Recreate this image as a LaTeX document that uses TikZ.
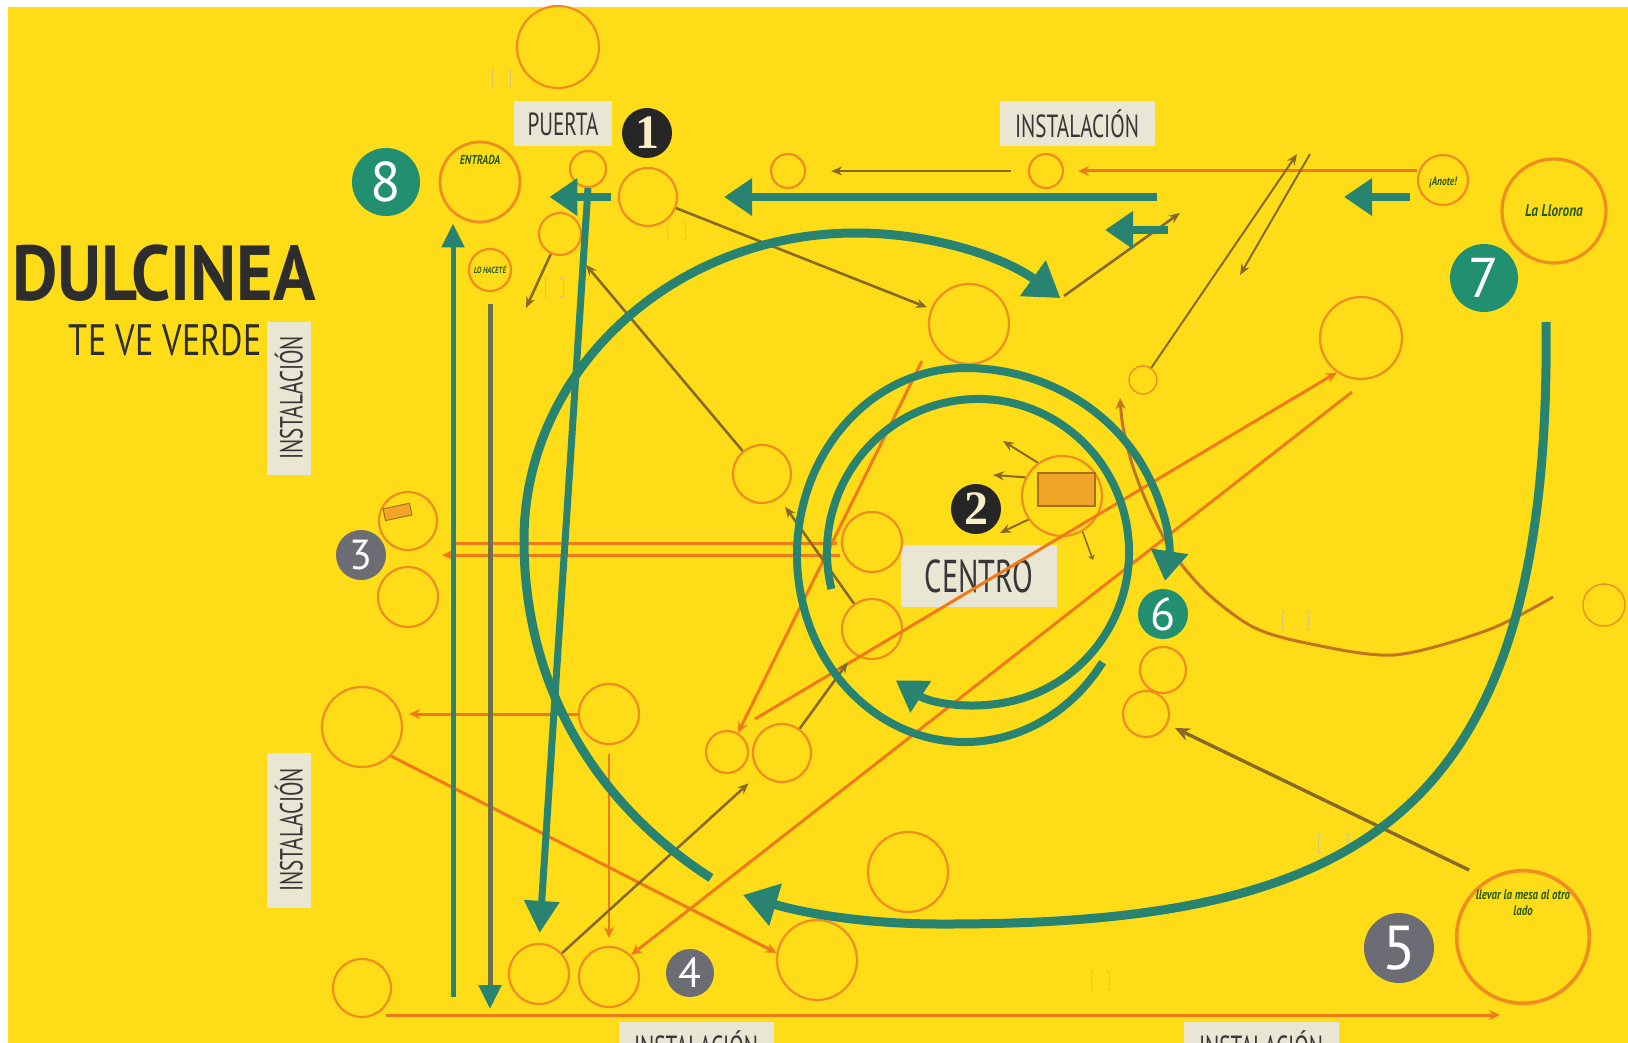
\documentclass[tikz,border=0pt]{standalone}
\usepackage{fontspec}
\setmainfont{PT Sans}
\newfontfamily\condsans{PT Sans}[FakeStretch=0.78]
\newfontfamily\widesans{PT Sans}[FakeStretch=0.9]
\newfontfamily\narrowsans{PT Sans}[FakeStretch=0.66]
\newfontfamily\numserif{Liberation Serif}
\usetikzlibrary{arrows.meta,positioning}

\definecolor{canvasyellow}{RGB}{254,221,24}
\definecolor{tealline}{RGB}{40,132,112}
\definecolor{discgreen}{RGB}{34,144,112}
\definecolor{discgray}{RGB}{108,108,116}
\definecolor{darkdisc}{RGB}{38,38,38}
\definecolor{numcream}{RGB}{250,240,200}
\definecolor{lineorange}{RGB}{240,122,26}
\definecolor{ringorange}{RGB}{240,140,32}
\definecolor{brownline}{RGB}{135,105,40}
\definecolor{rustline}{RGB}{196,116,32}
\definecolor{tagfill}{RGB}{234,230,212}
\definecolor{inkgray}{RGB}{55,55,55}
\definecolor{titleink}{RGB}{45,45,45}
\definecolor{titlegreen}{RGB}{40,90,30}
\definecolor{boxorange}{RGB}{240,165,40}
\definecolor{boxedge}{RGB}{170,110,30}
\definecolor{dropolive}{RGB}{110,112,70}
\definecolor{brackink}{RGB}{215,196,110}

% faint [ ] marks
\newcommand\brackpair[3]{%
  \draw[brackink, line width=0.8pt] (#1-#3,#2-9) -- ++(-3,0) -- ++(0,18) -- ++(3,0);
  \draw[brackink, line width=0.8pt] (#1+#3,#2-9) -- ++(3,0) -- ++(0,18) -- ++(-3,0);}

\begin{document}
\begin{tikzpicture}[x=1pt,y=-1pt,
  spot/.style={circle, draw=ringorange, fill=canvasyellow, line width=2.2pt, minimum size=#1, inner sep=0pt},
  badge/.style={circle, fill=#1, inner sep=0pt, text=white},
  tag/.style={fill=tagfill, text=inkgray, inner sep=0pt, font=\narrowsans\fontsize{32}{32}\selectfont},
  inside/.style={text=titlegreen, font=\condsans\bfseries\itshape, align=center},
  sweep/.style={draw=tealline, line width=9pt, -{Triangle[length=34pt,width=42pt]}},
  ring/.style={draw=tealline, line width=8pt, -{Triangle[length=30pt,width=36pt]}},
  bar/.style={draw=tealline, line width=8pt, -{Triangle[length=28pt,width=36pt]}},
  thinbrown/.style={draw=brownline, line width=2.6pt, -{Stealth[length=11pt,width=9pt]}},
  orangeline/.style={draw=lineorange, line width=3pt},
  orangearrow/.style={orangeline, -{Stealth[length=11pt,width=10pt]}},
]
\useasboundingbox (0,0) rectangle (1628,1043);
\fill[white] (0,0) rectangle (1628,1043);
\fill[canvasyellow] (8,7) rectangle (1628,1043);

% title
\node[anchor=west, inner sep=0pt, text=titleink, font=\widesans\bfseries\fontsize{78}{78}\selectfont] (brand) at (12,273) {DULCINEA};
\node[anchor=east, inner sep=0pt, text=titleink, font=\condsans\fontsize{44}{44}\selectfont] (motto) at (262,340) {TE VE VERDE};

% tags
\node[tag, minimum width=98pt, minimum height=45pt] (puerta) at (563,124) {PUERTA};
\node[tag, minimum width=155pt, minimum height=45pt] (instTop) at (1077,124) {INSTALACIÓN};
\node[tag, rotate=90, minimum width=153pt, minimum height=44pt] (instUp) at (289,398) {INSTALACIÓN};
\node[tag, rotate=90, minimum width=155pt, minimum height=44pt] (instDown) at (289,830) {INSTALACIÓN};
\node[tag, minimum width=155pt, minimum height=46pt] (instBotA) at (696,1045) {INSTALACIÓN};
\node[tag, minimum width=155pt, minimum height=46pt] (instBotB) at (1261,1045) {INSTALACIÓN};
\node[tag, minimum width=156pt, minimum height=62pt, font=\narrowsans\fontsize{46}{46}\selectfont] (centro) at (979,576) {CENTRO};

% circles
\node[spot=82] (topc) at (558,47) {};
\node[spot=80, line width=2.8pt, inside, font=\condsans\bfseries\itshape\fontsize{13}{14}\selectfont] (entrada) at (480,182) {ENTRADA\\[30pt]\mbox{}};
\node[spot=36] (c3) at (588,169) {};
\node[spot=58] (salir) at (648,197) {};
\node[spot=42] (c5) at (560,234) {};
\node[spot=42, inside, font=\condsans\bfseries\itshape\fontsize{9}{10}\selectfont] (hacete) at (490,270) {LO HACETÉ};
\node[spot=34] (c7) at (788,171) {};
\node[spot=34] (c8) at (1046,171) {};
\node[spot=50, inside, font=\condsans\bfseries\itshape\fontsize{12}{12}\selectfont] (anote) at (1443,180) {\\[2pt]¡Anote!};
\node[spot=104, line width=3.2pt, inside, font=\condsans\bfseries\itshape\fontsize{17}{18}\selectfont] (llorona) at (1554,211) {La Llorona};
\node[spot=80] (c11) at (969,324) {};
\node[spot=82] (c12) at (1361,338) {};
\node[spot=28, line width=1.4pt] (c13) at (1143,380) {};
\node[spot=58] (lista) at (762,474) {};
\node[spot=80] (cimg) at (1062,496) {};
\node[spot=60] (c16) at (872,542) {};
\node[spot=60] (c17) at (872,629) {};
\node[spot=58] (c18) at (408,521) {};
\node[spot=60] (c19) at (408,597) {};
\node[spot=80] (sitio) at (362,727) {};
\node[spot=60] (c21) at (609,714) {};
\node[spot=42] (c22) at (727,752) {};
\node[spot=58] (c23) at (782,753) {};
\node[spot=46] (c24) at (1163,670) {};
\node[spot=46] (c25) at (1146,714) {};
\node[spot=80] (c26) at (908,872) {};
\node[spot=60] (c27) at (539,974) {};
\node[spot=60] (c28) at (609,977) {};
\node[spot=58] (c29) at (362,988) {};
\node[spot=80] (c30) at (817,960) {};
\node[spot=104, line width=3.6pt, inside, font=\condsans\bfseries\itshape\fontsize{14}{16}\selectfont] (mesa) at (1523,937) {llevar la mesa al otro\\lado\\[52pt]\mbox{}};
\node[spot=42, line width=1.4pt] (c32) at (1604,605) {};

% pictures inside circles
\filldraw[fill=boxorange, draw=boxedge, line width=1.2pt] (1038,473) rectangle (1095,506);
\filldraw[fill=boxorange, draw=boxedge, line width=1pt, rotate around={12:(397,512)}] (384,506) rectangle (411,518);

% faint marks
\brackpair{501}{78}{6}
\brackpair{676}{230}{6}
\brackpair{554}{287}{6}
\brackpair{1295}{620}{10}
\brackpair{1333}{843}{12}
\brackpair{1100}{980}{6}

% numbered discs
\node[badge=darkdisc, minimum size=50pt, text=numcream, font=\numserif\bfseries\fontsize{48}{48}\selectfont] (n1) at (647,133) {1};
\node[badge=darkdisc, minimum size=50pt, text=numcream, font=\numserif\bfseries\fontsize{48}{48}\selectfont] (n2) at (976,509) {2};
\node[badge=discgray, minimum size=50pt, font=\fontsize{42}{42}\selectfont] (n3) at (361,555) {3};
\node[badge=discgray, minimum size=48pt, font=\fontsize{42}{42}\selectfont] (n4) at (690,973) {4};
\node[badge=discgray, minimum size=70pt, font=\fontsize{62}{62}\selectfont] (n5) at (1399,948) {5};
\node[badge=discgreen, minimum size=50pt, font=\fontsize{46}{46}\selectfont] (n6) at (1163,614) {6};
\node[badge=discgreen, minimum size=68pt, font=\fontsize{56}{56}\selectfont] (n7) at (1484,278) {7};
\node[badge=discgreen, minimum size=68pt, font=\fontsize{56}{56}\selectfont] (n8) at (386,182) {8};

% free ends
\coordinate (barA) at (1157,197);
\coordinate (barB1) at (1168,230);
\coordinate (barB2) at (1105,230);
\coordinate (barC1) at (1410,197);
\coordinate (barC2) at (1344,197);
\coordinate (riseA) at (453,997);
\coordinate (dropEnd) at (491,1009);
\coordinate (arcTip) at (1064,296);
\coordinate (upA) at (1180,213);
\coordinate (upB) at (1297,154);
\coordinate (downA) at (1310,154);
\coordinate (downB) at (1240,275);
\coordinate (leftDrop) at (526,308);
\coordinate (mesaFoot) at (1469,870);
\coordinate (pA) at (1003,441);
\coordinate (pB) at (993,475);
\coordinate (pC) at (1000,533);
\coordinate (tickEnd) at (1093,560);
\coordinate (pairA) at (837,543);
\coordinate (pairAend) at (455,543);
\coordinate (pairB) at (840,555);
\coordinate (pairBend) at (442,555);
\coordinate (c12foot) at (1352,392);
\coordinate (c22foot) at (755,719);
\coordinate (c11foot) at (922,361);
\coordinate (baseA) at (386,1015);
\coordinate (baseB) at (1500,1015);

% orange connectors
\draw[orangearrow, shorten >=14pt] (anote.west |- c8.east) -- (c8.east);
\draw[orangeline] (pairA) -- (pairAend);
\draw[orangearrow] (pairB) -- (pairBend);
\draw[orangearrow, shorten >=6pt] (c21.west) -- (c21.west -| sitio.east);
\draw[orangearrow, shorten <=9pt, shorten >=8pt, line width=2.4pt] (c21.south) -- (c28.north);
\draw[orangearrow] (sitio.south east) -- (c30.170);
\draw[orangearrow] (c12foot) -- (c28.45);
\draw[orangearrow] (c22foot) -- (c12.235);
\draw[orangearrow] (c11foot) -- (c22.60);
\draw[orangearrow] (baseA) -- (baseB);
\draw[draw=rustline, line width=3pt, -{Stealth[length=11pt,width=10pt]}] plot[smooth] coordinates {(1553,597) (1488,630) (1394,655) (1306,643) (1253,627) (1207,593) (1173,553) (1150,510) (1133,467) (1123,427) (1120,398)};

% brown connectors
\draw[thinbrown, shorten <=17pt, shorten >=25pt] (c8) -- (c7);
\draw[thinbrown, shorten >=4pt] (salir) -- (c11);
\draw[thinbrown] (arcTip) -- (upA);
\draw[thinbrown, line width=2pt] (c13) -- (upB);
\draw[thinbrown, line width=2pt] (downA) -- (downB);
\draw[thinbrown, shorten >=18pt] (lista) -- (c5);
\draw[thinbrown] (c5) -- (leftDrop);
\draw[thinbrown, shorten >=10pt] (c17) -- (lista);
\draw[thinbrown, shorten >=10pt] (c23) -- (c17);
\draw[thinbrown, shorten >=15pt] (c27) -- (c23);
\draw[thinbrown, line width=3.4pt, shorten >=8pt, -{Stealth[length=15pt,width=13pt]}] (mesaFoot) -- (c25);
\draw[thinbrown, line width=2pt] (cimg.126) -- (pA);
\draw[thinbrown, line width=2pt] (cimg.153) -- (pB);
\draw[thinbrown, line width=2pt] (cimg.215) -- (pC);
\draw[brownline, line width=1.6pt, -{Stealth[length=5pt,width=7pt]}] (cimg.300) -- (tickEnd);

% teal bars
\draw[bar, shorten >=46pt] (barA) -- (salir);
\draw[bar, shorten <=7pt, shorten >=28pt] (salir.west) -- (entrada.east |- salir.west);
\draw[bar] (barB1) -- (barB2);
\draw[bar] (barC1) -- (barC2);
\draw[draw=tealline, line width=5pt, -{Triangle[length=24pt,width=22pt]}] (riseA) -- (riseA |- entrada.south);
\draw[draw=dropolive, line width=5pt, shorten <=12pt, -{Triangle[length=24pt,width=22pt,color=tealline]}] (hacete.south) -- (hacete.south |- dropEnd);
\draw[draw=tealline, line width=7pt, shorten >=10pt, -{Triangle[length=32pt,width=34pt]}] (c3.south) -- (c27.north);

% big sweeps
\draw[sweep] (711,878) .. controls (590,800) and (524,680) .. (524,540)
  arc[start angle=180, end angle=308, x radius=332, y radius=307];
\draw[sweep] (1546,322) .. controls (1552,820) and (1360,925) .. (940,924)
  .. controls (860,924) and (800,912) .. (743,895);
\draw[ring] ([shift={(965,555)}]35:168 and 187)
  arc[start angle=35, end angle=270, x radius=168, y radius=187]
  arc[start angle=270, end angle=368, x radius=202, y radius=187];
\draw[ring] ([shift={(978,552)}]166:151 and 153)
  arc[start angle=166, end angle=483, x radius=151, y radius=153];
\end{tikzpicture}
\end{document}
